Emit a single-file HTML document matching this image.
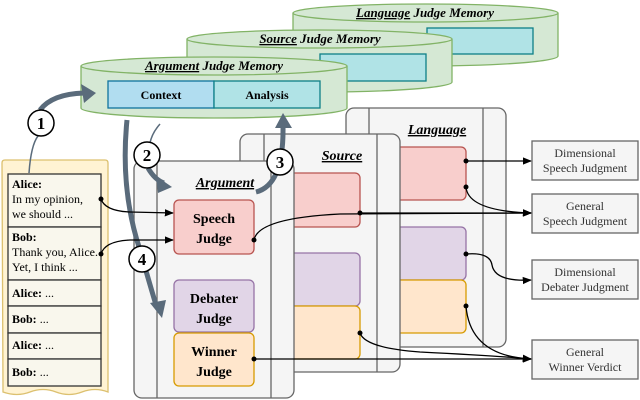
<!DOCTYPE html>
<html><head><meta charset="utf-8"><style>
html,body{margin:0;padding:0;background:#fff}
svg{display:block}
svg text{font-family:"Liberation Serif","DejaVu Serif","Times New Roman",serif}
</style></head><body>
<svg width="640" height="400" viewBox="0 0 640 400" xmlns="http://www.w3.org/2000/svg" font-family="Liberation Serif, DejaVu Serif, serif">
<defs>
<marker id="ah" viewBox="0 0 10 10" refX="9" refY="5" markerWidth="7" markerHeight="7" orient="auto"><path d="M0,1 L10,5 L0,9 z" fill="#000"/></marker>
</defs>
<g stroke="#82b366" stroke-width="1.3" fill="#d5e8d4">
<path d="M293,13 v43 a132.5,10 0 0 0 265,0 v-43"/>
<ellipse cx="425.5" cy="13" rx="132.5" ry="9"/>
</g>
<rect x="427" y="28" width="106" height="26" fill="#b0e3e6" stroke="#0e8088" stroke-width="1.3"/>
<text x="425" y="17" font-size="13" font-style="italic" font-weight="bold" text-anchor="middle"><tspan text-decoration="underline">Language</tspan> Judge Memory</text>
<g stroke="#82b366" stroke-width="1.3" fill="#d5e8d4">
<path d="M187,39 v43 a132.5,10 0 0 0 265,0 v-43"/>
<ellipse cx="319.5" cy="39" rx="132.5" ry="9"/>
</g>
<rect x="320" y="54" width="106" height="27" fill="#b0e3e6" stroke="#0e8088" stroke-width="1.3"/>
<text x="320" y="43" font-size="13" font-style="italic" font-weight="bold" text-anchor="middle"><tspan text-decoration="underline">Source</tspan> Judge Memory</text>
<g stroke="#82b366" stroke-width="1.3" fill="#d5e8d4">
<path d="M81,66 v42 a133,10 0 0 0 266,0 v-42"/>
<ellipse cx="214" cy="66" rx="133" ry="9"/>
</g>
<rect x="108" y="81" width="106" height="27" fill="#b1ddf0" stroke="#10739e" stroke-width="1.3"/>
<rect x="214" y="81" width="106" height="27" fill="#b0e3e6" stroke="#0e8088" stroke-width="1.3"/>
<text x="214" y="70" font-size="13" font-style="italic" font-weight="bold" text-anchor="middle"><tspan text-decoration="underline">Argument</tspan> Judge Memory</text>
<text x="161" y="99" font-size="12" font-weight="bold" text-anchor="middle">Context</text>
<text x="267" y="99" font-size="12" font-weight="bold" text-anchor="middle">Analysis</text>

<rect x="346" y="108" width="160" height="239" rx="8" fill="#f5f5f5" stroke="#666" stroke-width="1.3"/>
<line x1="369" y1="108" x2="369" y2="347" stroke="#666" stroke-width="1.3"/>
<line x1="483" y1="108" x2="483" y2="347" stroke="#666" stroke-width="1.3"/>
<text x="437" y="134" font-size="14" font-style="italic" font-weight="bold" text-anchor="middle" text-decoration="underline">Language</text>
<rect x="386" y="147" width="80" height="53" rx="5" fill="#f8cecc" stroke="#b85450" stroke-width="1.3"/>
<rect x="386" y="227" width="80" height="53" rx="5" fill="#e1d5e7" stroke="#9673a6" stroke-width="1.3"/>
<rect x="386" y="280" width="80" height="53" rx="5" fill="#ffe6cc" stroke="#d79b00" stroke-width="1.3"/>

<rect x="240" y="134" width="160" height="238" rx="8" fill="#f5f5f5" stroke="#666" stroke-width="1.3"/>
<line x1="264" y1="134" x2="264" y2="372" stroke="#666" stroke-width="1.3"/>
<line x1="377" y1="134" x2="377" y2="372" stroke="#666" stroke-width="1.3"/>
<text x="342" y="160" font-size="14" font-style="italic" font-weight="bold" text-anchor="middle" text-decoration="underline">Source</text>
<rect x="280" y="173" width="80" height="54" rx="5" fill="#f8cecc" stroke="#b85450" stroke-width="1.3"/>
<rect x="280" y="253" width="80" height="53" rx="5" fill="#e1d5e7" stroke="#9673a6" stroke-width="1.3"/>
<rect x="280" y="306" width="80" height="53" rx="5" fill="#ffe6cc" stroke="#d79b00" stroke-width="1.3"/>

<rect x="134" y="161" width="160" height="237" rx="8" fill="#f5f5f5" stroke="#666" stroke-width="1.3"/>
<line x1="157" y1="161" x2="157" y2="398" stroke="#666" stroke-width="1.3"/>
<line x1="271" y1="161" x2="271" y2="398" stroke="#666" stroke-width="1.3"/>
<text x="225" y="187" font-size="14" font-style="italic" font-weight="bold" text-anchor="middle" text-decoration="underline">Argument</text>
<rect x="174" y="200" width="80" height="54" rx="5" fill="#f8cecc" stroke="#b85450" stroke-width="1.3"/>
<rect x="174" y="280" width="80" height="52" rx="5" fill="#e1d5e7" stroke="#9673a6" stroke-width="1.3"/>
<rect x="174" y="333" width="80" height="53" rx="5" fill="#ffe6cc" stroke="#d79b00" stroke-width="1.3"/>
<g font-size="14" font-weight="bold" text-anchor="middle">
<text x="214" y="223">Speech</text><text x="214" y="243">Judge</text>
<text x="214" y="303">Debater</text><text x="214" y="323">Judge</text>
<text x="214" y="356">Winner</text><text x="214" y="376">Judge</text>
</g>

<path d="M2,163 q0,-3 3,-3 h100 q3,0 3,3 v229 q-13,-5 -26,0 t-26,0 t-26,0 t-27,0 z" fill="#fff2cc" stroke="#d6b656" stroke-width="1.3" opacity="0.85"/>
<g fill="#f9f7ed" stroke="#333" stroke-width="1.3">
<rect x="8" y="174" width="93" height="53"/><rect x="8" y="227" width="93" height="53"/>
<rect x="8" y="280" width="93" height="26"/><rect x="8" y="306" width="93" height="27"/>
<rect x="8" y="333" width="93" height="26"/><rect x="8" y="359" width="93" height="27"/>
</g>
<g font-size="12">
<text x="12" y="188" font-weight="bold">Alice:</text>
<text x="12" y="203">In my opinion,</text><text x="12" y="218">we should ...</text>
<text x="12" y="241" font-weight="bold">Bob:</text>
<text x="12" y="256">Thank you, Alice.</text><text x="12" y="271">Yet, I think ...</text>
<text x="12" y="297"><tspan font-weight="bold">Alice:</tspan> ...</text>
<text x="12" y="323"><tspan font-weight="bold">Bob:</tspan> ...</text>
<text x="12" y="349"><tspan font-weight="bold">Alice:</tspan> ...</text>
<text x="12" y="376"><tspan font-weight="bold">Bob:</tspan> ...</text>
</g>

<g fill="#f5f5f5" stroke="#666" stroke-width="1.3">
<rect x="532" y="141" width="106" height="39"/><rect x="532" y="194" width="106" height="39"/>
<rect x="532" y="260" width="106" height="39"/><rect x="532" y="340" width="106" height="39"/>
</g>
<g font-size="12" fill="#333" text-anchor="middle">
<text x="585" y="157">Dimensional</text><text x="585" y="172">Speech Judgment</text>
<text x="585" y="210">General</text><text x="585" y="225">Speech Judgment</text>
<text x="585" y="276">Dimensional</text><text x="585" y="291">Debater Judgment</text>
<text x="585" y="356">General</text><text x="585" y="371">Winner Verdict</text>
</g>

<g fill="none" stroke="#5a6b7b" stroke-width="5">
<path d="M40,110 Q52,94 84,93"/>
<path d="M148,168 Q155,180 164,183"/>
<path d="M256,192 Q284,185 283,126"/>
<path d="M127,120 Q120,190 140,250 Q150,285 156,305"/>
</g>
<g fill="#5a6b7b">
<path d="M96,93 L81,84 L84,103 z"/>
<path d="M172,187 L156,176 L158,193 z"/>
<path d="M283,113 L275,128 L292,128 z"/>
<path d="M162,318 L150,303 L166,300 z"/>
</g>
<g fill="none" stroke="#5a6b7b" stroke-width="1.5">
<path d="M29,173 Q31,145 38,136"/>
<path d="M160,124 Q152,133 150,143"/>
</g>
<g fill="#fff" stroke="#000" stroke-width="1.5">
<circle cx="41" cy="123" r="13"/><circle cx="147" cy="155" r="13"/>
<circle cx="280" cy="162" r="13"/><circle cx="142" cy="259" r="13"/>
</g>
<g font-size="17" font-weight="bold" text-anchor="middle">
<text x="41" y="129">1</text><text x="147" y="161">2</text><text x="280" y="168">3</text><text x="142" y="265">4</text>
</g>

<g fill="none" stroke="#000" stroke-width="1.3" marker-end="url(#ah)">
<path d="M101,199 Q105,211 130,212 L173,213"/>
<path d="M101,254 Q105,241 130,240 L173,240"/>
<path d="M254,240 Q258,218 340,214 L531,213"/>
<path d="M360,213 L531,213"/>
<path d="M466,161 L531,161"/>
<path d="M466,187 Q468,211 531,213"/>
<path d="M466,254 Q490,252 492,265 Q495,282 531,280"/>
<path d="M466,306 Q470,356 531,359"/>
<path d="M360,333 Q365,348 420,352 Q500,356 531,359"/>
<path d="M254,359 L531,359"/>
</g>
<g fill="#000">
<circle cx="101" cy="199" r="2.5"/><circle cx="101" cy="254" r="2.5"/><circle cx="254" cy="240" r="2.5"/>
<circle cx="360" cy="213" r="2.5"/><circle cx="466" cy="161" r="2.5"/><circle cx="466" cy="187" r="2.5"/>
<circle cx="466" cy="254" r="2.5"/><circle cx="466" cy="306" r="2.5"/><circle cx="360" cy="333" r="2.5"/>
<circle cx="254" cy="359" r="2.5"/>
</g>
</svg>
</body></html>
